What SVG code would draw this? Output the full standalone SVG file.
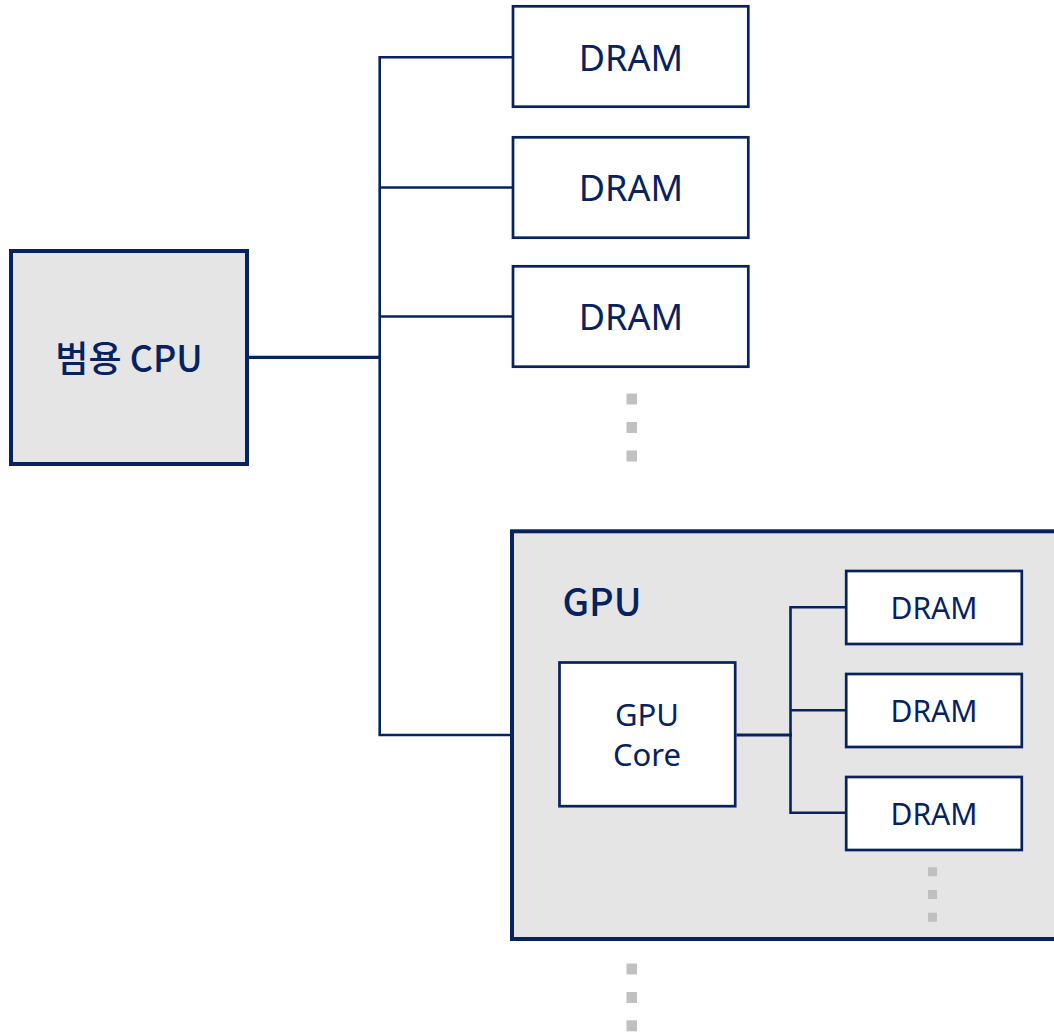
<svg xmlns="http://www.w3.org/2000/svg" width="1054" height="1033" viewBox="0 0 1054 1033">
<style>
.box{fill:#ffffff;stroke:#06225f;stroke-width:2.7}
.big{fill:#e5e5e5;stroke:#06225f;stroke-width:4}
.ln{fill:none;stroke:#06225f;stroke-width:2.6}
.lnb{fill:none;stroke:#06225f;stroke-width:3.2}
.t{font-family:"Noto Sans","Noto Sans CJK KR",sans-serif;fill:#06225f;text-anchor:middle}
.tm{font-family:"Noto Sans CJK KR","Noto Sans",sans-serif;font-weight:500;fill:#06225f;text-anchor:middle}
.dot{fill:#c0c0c0}
</style>
<rect width="1054" height="1033" fill="#ffffff"/>
<g id="cpu">
<rect class="big" x="11" y="251" width="236" height="213"/>
<text class="tm" x="129" y="371.5" font-size="36">범용 CPU</text>
</g>
<g id="dram1">
<rect class="box" x="513" y="6.3" width="235.3" height="100.4"/>
<text class="t" x="631" y="71" font-size="36">DRAM</text>
</g>
<g id="dram2">
<rect class="box" x="513" y="137.3" width="235.3" height="100.4"/>
<text class="t" x="631" y="201" font-size="36">DRAM</text>
</g>
<g id="dram3">
<rect class="box" x="513" y="266.3" width="235.3" height="100.4"/>
<text class="t" x="631" y="330" font-size="36">DRAM</text>
</g>
<g id="dots1">
<rect class="dot" x="626.5" y="393.5" width="10.5" height="11"/>
<rect class="dot" x="626.5" y="422" width="10.5" height="11"/>
<rect class="dot" x="626.5" y="450.5" width="10.5" height="11"/>
</g>
<g id="gpu">
<rect class="big" x="512" y="531.3" width="560" height="407.7"/>
<text class="tm" x="602" y="616" font-size="38">GPU</text>
</g>
<g id="gpucore">
<rect class="box" x="559.5" y="662.5" width="175.7" height="143.7"/>
<text class="t" x="647" y="726" font-size="31">GPU</text>
<text class="t" x="647" y="765.7" font-size="31">Core</text>
</g>
<g id="gdram1">
<rect class="box" x="846.2" y="571" width="175.6" height="73"/>
<text class="t" x="934" y="619" font-size="30">DRAM</text>
</g>
<g id="gdram2">
<rect class="box" x="846.2" y="674" width="175.6" height="73"/>
<text class="t" x="934" y="722" font-size="30">DRAM</text>
</g>
<g id="gdram3">
<rect class="box" x="846.2" y="777" width="175.6" height="73"/>
<text class="t" x="934" y="825" font-size="30">DRAM</text>
</g>
<g id="dots2">
<rect class="dot" x="928" y="867.3" width="9" height="9"/>
<rect class="dot" x="928" y="890" width="9" height="9"/>
<rect class="dot" x="928" y="912.7" width="9" height="9"/>
</g>
<g id="dots3">
<rect class="dot" x="626.5" y="963.5" width="10.5" height="11"/>
<rect class="dot" x="626.5" y="992" width="10.5" height="11"/>
<rect class="dot" x="626.5" y="1020.3" width="10.5" height="11"/>
</g>
<g id="connectors">
<polyline class="ln" points="513,57.3 379.7,57.3 379.7,735 510,735"/>
<line class="ln" x1="379.7" y1="187.5" x2="513" y2="187.5"/>
<line class="ln" x1="379.7" y1="316.5" x2="513" y2="316.5"/>
<line class="lnb" x1="249" y1="357.3" x2="381" y2="357.3"/>
<polyline class="ln" points="846,607.3 790.5,607.3 790.5,812.7 846,812.7"/>
<line class="ln" x1="790.5" y1="710.3" x2="846" y2="710.3"/>
<line class="lnb" x1="736.5" y1="735" x2="792" y2="735"/>
</g>
</svg>
